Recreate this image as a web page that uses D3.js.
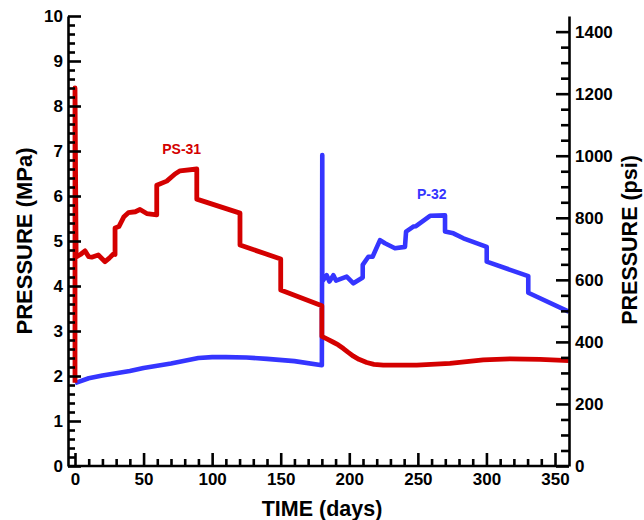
<!DOCTYPE html>
<html>
<head>
<meta charset="utf-8">
<script src="https://cdn.jsdelivr.net/npm/d3@7"></script>
<style>
  body { margin: 0; background: #fff; }
  svg { display: block; font-family: "Liberation Sans", Arial, Helvetica, sans-serif; }
  .tick text { font-size: 17px; fill: #000; font-weight: bold; }
  .domain, .tick line { stroke: #000; stroke-width: 2.6px; }
</style>
</head>
<body>
<svg id="chart" width="644" height="520"></svg>
<script>
// ---- data (time in days, pressure in MPa) ----
const ps31Days = [0, 0, 0.8, 1.2, 4, 7.3, 10, 12.2, 17, 21.9, 25, 28, 29.2, 29.2, 32, 35.7, 38.9, 44, 47.4, 52.3, 59.6, 59.6,
  66.9, 72.9, 76.6, 88.8, 88.8, 120.3, 120.3, 150, 150, 180, 180, 184, 188.4, 192, 195.7, 199, 203, 207, 212.7, 218,
  224.8, 249.2, 273.4, 297.7, 317.2, 339.1, 360];
const ps31MPa = [1.85, 8.4, 4.75, 4.65, 4.7, 4.78, 4.65, 4.64, 4.69, 4.54, 4.62, 4.71, 4.7, 5.29, 5.32, 5.54, 5.63, 5.65, 5.7, 5.61, 5.58, 6.24,
  6.33, 6.49, 6.56, 6.6, 5.93, 5.62, 4.91, 4.6, 3.91, 3.56, 2.88, 2.82, 2.75, 2.69, 2.61, 2.53, 2.44, 2.37, 2.3, 2.26,
  2.24, 2.24, 2.28, 2.36, 2.38, 2.37, 2.34];

const p32Days = [0, 10, 20, 30, 40, 50, 60, 70, 80, 90, 100, 110, 125, 140, 160, 180, 180.3, 180.3, 183.5, 185.5, 188.4,
  190.3, 198.1, 203, 209.8, 209.8, 213.9, 217, 222.4, 226, 233.3, 240.6, 241.4, 246.7, 248.6, 258.9, 269.8, 269.8,
  275.9, 283.2, 300.2, 300.2, 330.5, 330.5, 360];
const p32MPa = [1.84, 1.95, 2.01, 2.06, 2.11, 2.18, 2.23, 2.28, 2.34, 2.4, 2.42, 2.42, 2.41, 2.38, 2.33, 2.24, 6.91, 4.1, 4.24, 4.1, 4.24,
  4.12, 4.21, 4.06, 4.19, 4.47, 4.65, 4.65, 5.02, 4.95, 4.84, 4.87, 5.21, 5.32, 5.33, 5.56, 5.57, 5.21,
  5.17, 5.06, 4.87, 4.54, 4.22, 3.85, 3.43];

const timeTicks = [0, 50, 100, 150, 200, 250, 300, 350];
const mpaTicks = [0, 1, 2, 3, 4, 5, 6, 7, 8, 9, 10];
const psiTicks = [0, 200, 400, 600, 800, 1000, 1200, 1400];
const MPA_TO_PSI = 145.038;

const svg = d3.select('#chart');
const plotL = 68, plotR = 569, plotT = 16, plotB = 466;

const x = d3.scaleLinear().domain([-5.1, 360.2]).range([plotL, plotR]);
const y = d3.scaleLinear().domain([0, 10]).range([plotB, plotT]);
const yPsi = d3.scaleLinear().domain([0, 10 * MPA_TO_PSI]).range([plotB, plotT]);

// minor tick values
const timeMinor = d3.range(0, 350, 10).filter(v => v % 50 !== 0);
const mpaMinor = d3.range(0, 10, 0.2).filter(v => Math.abs(v - Math.round(v)) > 0.01);
const psiMinor = d3.range(50, 1450, 50).filter(v => v % 200 !== 0);

// ---- series ----
const line = d3.line().x(d => x(d[0])).y(d => y(d[1]));

svg.append('path')
  .datum(d3.zip(p32Days, p32MPa))
  .attr('d', line)
  .attr('fill', 'none')
  .attr('stroke', '#3535ff')
  .attr('stroke-width', 4.6)
  .attr('stroke-linejoin', 'round');

svg.append('path')
  .datum(d3.zip(ps31Days, ps31MPa))
  .attr('d', line)
  .attr('fill', 'none')
  .attr('stroke', '#d40000')
  .attr('stroke-width', 4.8)
  .attr('stroke-linejoin', 'round');

// series labels
svg.append('text')
  .attr('x', x(77.8)).attr('y', y(6.93))
  .attr('text-anchor', 'middle')
  .attr('font-size', 14).attr('font-weight', 'bold')
  .attr('fill', '#d40000')
  .text('PS-31');

svg.append('text')
  .attr('x', x(260.1)).attr('y', y(5.93))
  .attr('text-anchor', 'middle')
  .attr('font-size', 14).attr('font-weight', 'bold')
  .attr('fill', '#3535ff')
  .text('P-32');

// ---- axes (ticks point inward) ----
svg.append('g')
  .attr('transform', `translate(0,${plotB})`)
  .call(d3.axisBottom(x).tickValues(timeMinor).tickSize(-7).tickSizeOuter(0).tickFormat(''))
  .call(g => g.select('.domain').remove());
svg.append('g')
  .attr('transform', `translate(0,${plotB})`)
  .call(d3.axisBottom(x).tickValues(timeTicks).tickSize(-13).tickSizeOuter(0).tickPadding(7))
  .call(g => g.select('.domain').attr('d', `M${plotL},0H${plotR}`));

svg.append('g')
  .attr('transform', `translate(${plotL},0)`)
  .call(d3.axisLeft(y).tickValues(mpaMinor).tickSize(-7).tickSizeOuter(0).tickFormat(''))
  .call(g => g.select('.domain').remove());
svg.append('g')
  .attr('transform', `translate(${plotL},0)`)
  .call(d3.axisLeft(y).tickValues(mpaTicks).tickSize(-13).tickSizeOuter(0).tickPadding(5));

svg.append('g')
  .attr('transform', `translate(${plotR},0)`)
  .call(d3.axisRight(yPsi).tickValues(psiMinor).tickSize(-8).tickSizeOuter(0).tickFormat(''))
  .call(g => g.select('.domain').remove());
svg.append('g')
  .attr('transform', `translate(${plotR},0)`)
  .call(d3.axisRight(yPsi).tickValues(psiTicks).tickSize(-13).tickSizeOuter(0).tickPadding(6)
    .tickFormat(d3.format('d')));

svg.selectAll('g').attr('font-family', null).attr('font-size', null);

// ---- axis titles ----
svg.append('text')
  .attr('transform', 'translate(32,241) rotate(-90)')
  .attr('text-anchor', 'middle')
  .attr('font-size', 22).attr('font-weight', 'bold')
  .text('PRESSURE (MPa)');

svg.append('text')
  .attr('transform', 'translate(637,240) rotate(-90)')
  .attr('text-anchor', 'middle')
  .attr('font-size', 21.5).attr('font-weight', 'bold')
  .text('PRESSURE (psi)');

svg.append('text')
  .attr('x', 322).attr('y', 516)
  .attr('text-anchor', 'middle')
  .attr('font-size', 21.5).attr('font-weight', 'bold')
  .text('TIME (days)');
</script>
</body>
</html>
